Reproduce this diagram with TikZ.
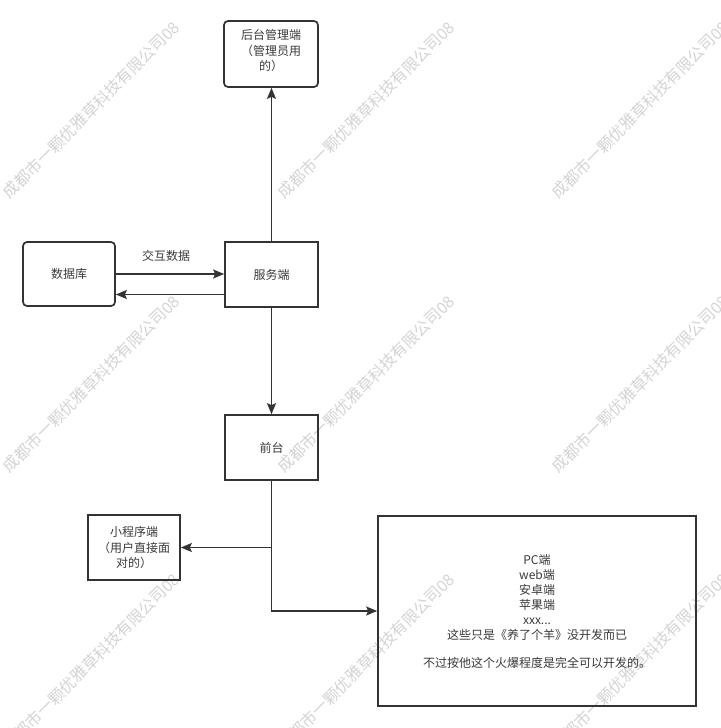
\documentclass[tikz,border=0pt]{standalone}
\usepackage{fontspec}
\setmainfont{Noto Sans CJK SC}
\usetikzlibrary{arrows.meta,calc}
\definecolor{ink}{HTML}{333333}
\definecolor{txt}{HTML}{3A3A3A}
\definecolor{wm}{HTML}{D4D4D4}
\begin{document}
\begin{tikzpicture}[x=1pt,y=-1pt,
  box/.style={draw=ink,line width=1.7pt,text=txt,font=\fontsize{12}{15.5}\selectfont,align=center,inner sep=0pt},
  rbox/.style={box,rounded corners=4pt},
  arr/.style={draw=ink,line width=1.6pt,-{Stealth[length=11pt,width=9pt,inset=2pt]}},
  lab/.style={text=txt,font=\fontsize{12}{15}\selectfont},
  wmk/.style={text=wm,font=\fontsize{16}{16}\selectfont,rotate=45,inner sep=0pt}]
\useasboundingbox (0,0) rectangle (720,728);
\clip (0,0) rectangle (720,728);
\fill[white] (0,0) rectangle (720,728);
% watermark
\foreach \i/\cx in {1/91,2/366,3/640}{
  \foreach \j/\cy in {1/110,2/384,3/662}{
    \node[wmk] (wm\i\j) at (\cx,\cy) {成都市一颗优雅草科技有限公司08};
  }
}
% boxes
\node[rbox,minimum width=94pt,minimum height=66pt] (admin) at (271,54) {\\[-12pt]后台管理端\\（管理员用\\的）};
\node[rbox,minimum width=92pt,minimum height=64pt] (db) at (69,274) {数据库};
\node[box,minimum width=93pt,minimum height=65pt] (server) at (271.5,274.5) {服务端};
\node[box,minimum width=93pt,minimum height=65pt] (front) at (271.5,447.5) {前台};
\node[box,minimum width=92pt,minimum height=65pt] (mini) at (134,547.5) {小程序端\\（用户直接面\\对的）};
\node[box,minimum width=318pt,minimum height=190pt,font=\fontsize{12}{15}\selectfont] (big) at (537,611)
  {PC端\\web端\\安卓端\\苹果端\\xxx...\\这些只是《养了个羊》没开发而已\\[13pt]不过按他这个火爆程度是完全可以开发的。};
% label
\node[lab] (lbl) at (166,256) {交互数据};
% connectors
\draw[arr] (server.north) -- (server.north |- admin.south);
\draw[arr] (db.east) -- (db.east -| server.west);
\coordinate (back) at ($(server.west)+(0,20)$);
\draw[arr] (back) -- (back -| db.east);
\draw[arr] (server.south) -- (front.north);
\draw[arr] (front.south) |- (mini.east);
\draw[arr] (front.south) |- (big.west);
\end{tikzpicture}
\end{document}
